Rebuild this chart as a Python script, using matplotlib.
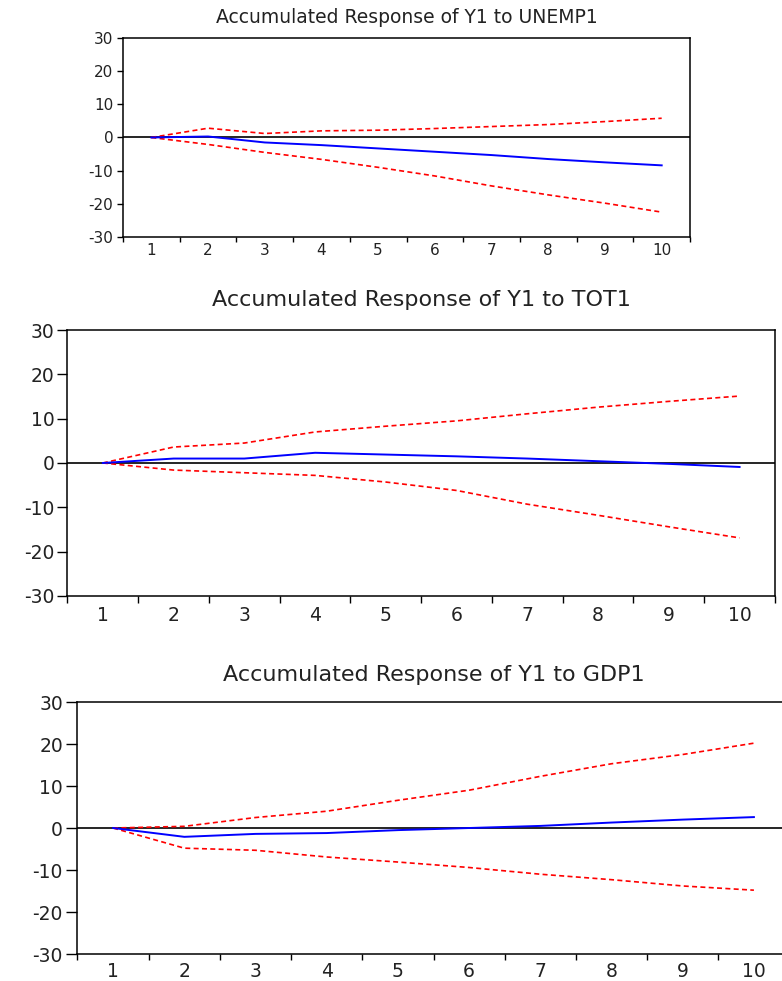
import numpy as np
import matplotlib
matplotlib.use("Agg")
import matplotlib.pyplot as plt

# horizon (periods)
periods = np.arange(1, 11)

# Y1 to UNEMP1
unemp_resp = [0.0, 0.3, -1.5, -2.3, -3.3, -4.3, -5.3, -6.5, -7.5, -8.4]
unemp_upper = [0.0, 2.8, 1.2, 2.0, 2.2, 2.7, 3.3, 3.9, 4.8, 5.8]
unemp_lower = [0.0, -2.1, -4.5, -6.6, -9.0, -11.6, -14.6, -17.3, -19.8, -22.5]

# Y1 to TOT1
tot_resp = [0.0, 1.0, 1.0, 2.3, 1.9, 1.5, 1.0, 0.4, -0.2, -0.9]
tot_upper = [0.0, 3.6, 4.5, 7.0, 8.3, 9.5, 11.1, 12.6, 13.9, 15.1]
tot_lower = [0.0, -1.6, -2.2, -2.8, -4.3, -6.2, -9.3, -11.8, -14.4, -16.9]

# Y1 to GDP1
gdp_resp = [0.0, -2.1, -1.4, -1.2, -0.5, 0.0, 0.5, 1.3, 2.0, 2.6]
gdp_upper = [0.0, 0.4, 2.5, 4.0, 6.6, 9.0, 12.3, 15.3, 17.5, 20.2]
gdp_lower = [0.0, -4.8, -5.3, -6.9, -8.1, -9.4, -11.0, -12.3, -13.8, -14.8]

titles = ["Accumulated Response of Y1 to UNEMP1",
          "Accumulated Response of Y1 to TOT1",
          "Accumulated Response of Y1 to GDP1"]
y_ticks = [-30, -20, -10, 0, 10, 20, 30]

plt.rcParams['font.family'] = ['DejaVu Sans']
plt.rcParams['axes.unicode_minus'] = False   # plain hyphens like the original

fig = plt.figure(figsize=(7.82, 9.81), dpi=100)

boxes = [[0.1573, 0.7584, 0.7251, 0.2029],
         [0.0863, 0.3925, 0.9047, 0.2711],
         [0.0991, 0.0275, 0.9105, 0.2569]]
title_size = [13.5, 16, 16]
title_pad = [11, 17, 15]
tick_size = [11, 13.5, 13.5]
ytick_len = [4.5, 7, 8]
xtick_len = [3.5, 5, 4.5]
xlab_pad = [4.5, 7.5, 6]

series = [(unemp_resp, unemp_upper, unemp_lower),
          (tot_resp, tot_upper, tot_lower),
          (gdp_resp, gdp_upper, gdp_lower)]

for i, (resp, up, lo) in enumerate(series):
    ax = fig.add_axes(boxes[i])
    ax.axhline(0, color='black', lw=1.2, zorder=1)
    ax.plot(periods, up, color='#ff0000', lw=1.2, dashes=(3, 2), zorder=2)
    ax.plot(periods, lo, color='#ff0000', lw=1.2, dashes=(3, 2), zorder=2)
    ax.plot(periods, resp, color='#0000ff', lw=1.4, zorder=3)

    ax.set_xlim(0.5, 10.5)
    ax.set_ylim(-30, 30)
    ax.set_yticks(y_ticks)

    # tick marks between periods, labels at period centres
    ax.set_xticks(np.arange(0.5, 11, 1))
    ax.set_xticklabels([])
    ax.set_xticks(periods, minor=True)
    ax.set_xticklabels([str(p) for p in periods], minor=True)
    ax.tick_params(axis='x', which='major', direction='out', length=xtick_len[i], width=1)
    ax.tick_params(axis='x', which='minor', length=0, pad=xlab_pad[i],
                   labelsize=tick_size[i], labelcolor='#222222')
    ax.tick_params(axis='y', direction='out', length=ytick_len[i], width=1, pad=2.5,
                   labelsize=tick_size[i], labelcolor='#222222')

    for s in ax.spines.values():
        s.set_linewidth(1.1)

    ax.set_title(titles[i], fontsize=title_size[i], pad=title_pad[i], color='#222222')

fig.savefig("out.png", dpi=100)
